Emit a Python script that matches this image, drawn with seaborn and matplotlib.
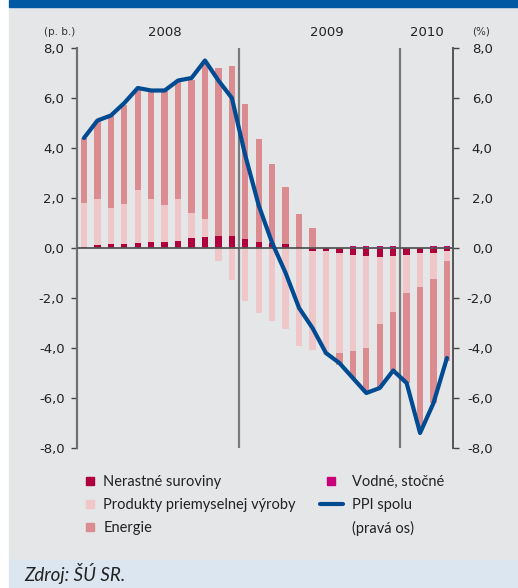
import numpy as np
import pandas as pd
import matplotlib
matplotlib.use('Agg')
import matplotlib.pyplot as plt
import seaborn as sns
from matplotlib.patches import Rectangle
from matplotlib.lines import Line2D

# months Jan 2008 .. Apr 2010
months = [f'{m:02d}/{y}' for y in (2008, 2009) for m in range(1, 13)] + \
         [f'{m:02d}/2010' for m in range(1, 5)]

# contributions (p. b.)
nerastne = [0.04, 0.12, 0.16, 0.16, 0.20, 0.24, 0.24, 0.28, 0.40, 0.44, 0.48, 0.48,
            0.35, 0.25, 0.20, 0.15, 0.05, -0.10, -0.12, -0.20, -0.27, -0.32, -0.36, -0.31,
            -0.28, -0.20, -0.20, -0.10]
vodne = [0.0] * 12 + [0.0, 0.0, 0.0, 0.0, 0.0, 0.0, 0.0, 0.0, 0.08, 0.08, 0.08, 0.08,
                      0.0, 0.0, 0.08, 0.08]
produkty = [1.76, 1.85, 1.44, 1.59, 2.11, 1.73, 1.48, 1.69, 1.00, 0.71, -0.51, -1.28,
            -2.10, -2.59, -2.90, -3.24, -3.92, -3.98, -4.16, -3.99, -3.85, -3.67, -2.67, -2.25,
            -1.51, -1.35, -1.04, -0.41]
energie = [2.60, 3.10, 3.67, 3.98, 4.02, 4.30, 4.55, 4.76, 5.33, 6.35, 6.72, 6.82,
           5.42, 4.12, 3.17, 2.30, 1.32, 0.81, 0.00, -0.50, -1.08, -1.76, -2.57, -2.32,
           -3.61, -5.75, -4.95, -3.99]
# PPI total (%)
ppi = [4.4, 5.1, 5.3, 5.8, 6.4, 6.3, 6.3, 6.7, 6.8, 7.5, 6.7, 6.0,
       3.7, 1.7, 0.2, -1.0, -2.4, -3.2, -4.2, -4.6, -5.2, -5.8, -5.6, -4.9,
       -5.4, -7.4, -6.2, -4.4]

years = ['2008', '2009', '2010']
year_x = [6.0, 18.1, 25.5]
yticks = [-8, -6, -4, -2, 0, 2, 4, 6, 8]

layers = [
    ('Nerastné suroviny', nerastne, '#b0003c'),
    ('Vodné, stočné', vodne, '#c8007a'),
    ('Produkty priemyselnej výroby', produkty, '#efc7c8'),
    ('Energie', energie, '#da8c91'),
]

sns.set_style('white')
plt.rcParams['font.family'] = ['DejaVu Sans']

W, H = 518, 588
fig = plt.figure(figsize=(W / 100, H / 100), dpi=100)
fig.patches.append(Rectangle((9 / W, 28 / H), 1, (560 - 7) / H, transform=fig.transFigure,
                             color='#e5e6e8', zorder=-10))
fig.patches.append(Rectangle((9 / W, 1 - 7 / H), 1, 7 / H, transform=fig.transFigure,
                             color='#0059a2', zorder=-10))
fig.patches.append(Rectangle((9 / W, 0), 1, 28 / H, transform=fig.transFigure,
                             color='#dce6f1', zorder=-10))

ax = fig.add_axes([77 / W, (H - 448) / H, (453 - 77) / W, 400 / H])
ax.set_facecolor('none')

# stacked bars: positives and negatives stacked separately
pos_base = np.zeros(len(months))
neg_base = np.zeros(len(months))
for name, vals, col in layers:
    v = np.array(vals)
    bottom = np.where(v >= 0, pos_base, neg_base)
    df = pd.DataFrame({'month': months, 'val': v})
    sns.barplot(data=df, x='month', y='val', color=col, saturation=1, width=0.47,
                errorbar=None, bottom=bottom, linewidth=0, ax=ax, zorder=2)
    pos_base = pos_base + np.where(v >= 0, v, 0)
    neg_base = neg_base + np.where(v < 0, v, 0)

sns.lineplot(x=np.arange(len(months)), y=ppi, color='#004b91', lw=3, ax=ax, zorder=6)

ax.axhline(0, color='#555555', lw=1.3, zorder=3)
ax.vlines([11.5, 23.5], -8, 8.08, color='#7a7a7a', lw=1.6, zorder=1)

ax.set_xlim(-0.52, 27.45)
ax.set_ylim(-8, 8)
ax.set_xticks([])
ax.set_xlabel('')
ax.set_ylabel('')
fmt = [f'{t:.1f}'.replace('.', ',') for t in yticks]
ax.set_yticks(yticks)
ax.set_yticklabels(fmt)
ax.tick_params(axis='y', direction='out', length=4, width=1, color='#444444',
               pad=5, labelsize=9.5, labelcolor='#222222')
for s in ['top', 'bottom', 'right']:
    ax.spines[s].set_visible(False)
ax.spines['left'].set_color('#707070')
ax.spines['left'].set_linewidth(1.6)

ax2 = ax.twinx()
ax2.set_facecolor('none')
ax2.set_ylim(-8, 8)
ax2.set_yticks(yticks)
ax2.set_yticklabels(fmt, ha='right')
ax2.tick_params(axis='y', direction='out', length=4, width=1, color='#444444',
                pad=24.5, labelsize=9.5, labelcolor='#222222')
for s in ['top', 'bottom', 'left']:
    ax2.spines[s].set_visible(False)
ax2.spines['right'].set_color('#555555')
ax2.spines['right'].set_linewidth(1.4)

for yr, x in zip(years, year_x):
    ax.text(x, 8.6, yr, ha='center', va='center', fontsize=9.5, color='#222222')
fig.text(59.5 / W, 1 - 32 / H, '(p. b.)', ha='center', va='center', fontsize=7.5,
         color='#333333')
fig.text(481.5 / W, 1 - 32 / H, '(%)', ha='center', va='center', fontsize=7.5,
         color='#333333')

def sq(c):
    return Line2D([], [], marker='s', ls='none', markersize=5.5, color=c)

leg_font = {'family': 'Lato', 'size': 10.5}
h1 = [sq(layers[0][2]), sq(layers[2][2]), sq(layers[3][2])]
l1 = [layers[0][0], layers[2][0], layers[3][0]]
fig.legend(h1, l1, loc='upper left', bbox_to_anchor=(83 / W, 1 - 475 / H),
           frameon=False, prop=leg_font, handlelength=1.0, handletextpad=0.4,
           labelspacing=0.62, borderpad=0, borderaxespad=0, labelcolor='#222222')
h2 = [sq(layers[1][2]), Line2D([], [], color='#004b91', lw=3), Line2D([], [], color='none')]
l2 = [layers[1][0], 'PPI spolu', '(pravá os)']
fig.legend(h2, l2, loc='upper left', bbox_to_anchor=(320 / W, 1 - 475 / H),
           frameon=False, prop=leg_font, handlelength=1.55, handletextpad=0.65,
           labelspacing=0.62, borderpad=0, borderaxespad=0, labelcolor='#222222')

fig.text(24 / W, 1 - 574 / H, 'Zdroj: ŠÚ SR.', ha='left', va='center', fontsize=13.5,
         family='Lato', style='italic', color='#222222')

fig.savefig('out.png', dpi=100)
